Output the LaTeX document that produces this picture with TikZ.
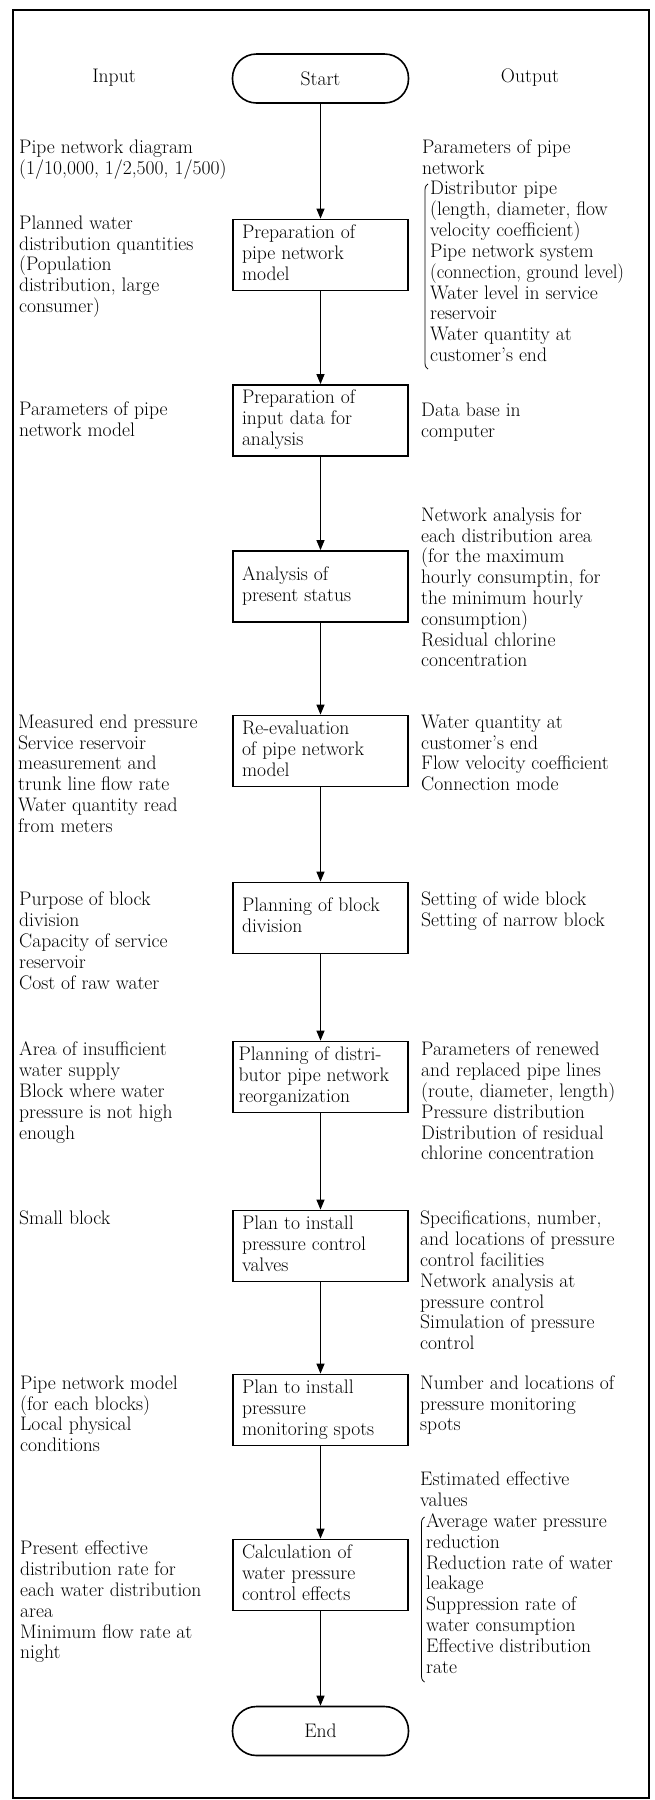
\documentclass[tikz,border=0pt]{standalone}
\usepackage{graphicx}
\usetikzlibrary{arrows.meta}
\newcommand\tlines[1]{\vtop{\offinterlineskip\halign{\vrule height 14.6pt depth 6.2pt width 0pt##\hfil\cr#1\crcr}}}
\newcommand\boxtext[2][157pt]{\hbox to #1{\tlines{#2}\hfil}}
\begin{document}
\begin{tikzpicture}[x=1pt,y=-1pt,
  font=\fontsize{19.6}{20.8}\selectfont,
  every node/.style={inner sep=0pt},
  proc/.style={draw, line width=1.8pt, minimum width=175pt, minimum height=71pt, inner xsep=9pt, inner ysep=0pt},
  term/.style={draw, line width=1.6pt, rounded corners=24pt, minimum width=176pt, minimum height=49pt},
  txt/.style={anchor=base west, inner sep=0pt},
  flow/.style={line width=1.2pt, -{Triangle[length=10pt,width=8pt]}},
  brk/.style={line width=0.8pt}]
\useasboundingbox (0,0) rectangle (654,1800);
\draw[line width=1.5pt] (13,10) rectangle (649,1798);

% headers
\node (inp) at (114,78) {Input};
\node (outp) at (530,78) {Output};

% flow column
\node[term] (start) at (320.5,78.5) {Start};
\node[proc] (b1) at (320.5,255) {\boxtext{Preparation of\cr pipe network\cr model}};
\node[proc] (b2) at (320.5,420.5) {\boxtext{Preparation of\cr input data for\cr analysis}};
\node[proc] (b3) at (320.5,586.5) {\boxtext{Analysis of\cr present status}};
\node[proc] (b4) at (320.5,751) {\boxtext{Re-evaluation\cr of pipe network\cr model}};
\node[proc] (b5) at (320.5,918) {\boxtext{Planning of block\cr division}};
\node[proc, inner xsep=5.5pt] (b6) at (320.5,1077) {\boxtext[164pt]{Planning of distri-\cr butor pipe network\cr reorganization}};
\node[proc] (b7) at (320.5,1246) {\boxtext{Plan to install\cr pressure control\cr valves}};
\node[proc] (b8) at (320.5,1410) {\boxtext{Plan to install\cr pressure\cr monitoring spots}};
\node[proc] (b9) at (320.5,1575) {\boxtext{Calculation of\cr water pressure\cr control effects}};
\node[term] (end) at (320.5,1731) {End};

\draw[flow] (start) -- (b1);
\draw[flow] (b1) -- (b2);
\draw[flow] (b2) -- (b3);
\draw[flow] (b3) -- (b4);
\draw[flow] (b4) -- (b5);
\draw[flow] (b5) -- (b6);
\draw[flow] (b6) -- (b7);
\draw[flow] (b7) -- (b8);
\draw[flow] (b8) -- (b9);
\draw[flow] (b9) -- (end);

% input column
\node[txt] (l1) at (19,153.2) {\tlines{Pipe network diagram\cr (1/10,000, 1/2,500, 1/500)}};
\node[txt] (l2) at (19,229.2) {\tlines{Planned water\cr distribution quantities\cr (Population\cr distribution, large\cr consumer)}};
\node[txt] (l3) at (19,415.9) {\tlines{Parameters of pipe\cr network model}};
\node[txt] (l4) at (18,728.2) {\tlines{Measured end pressure\cr Service reservoir\cr measurement and\cr trunk line flow rate\cr Water quantity read\cr from meters}};
\node[txt] (l5) at (19,905.9) {\tlines{Purpose of block\cr division\cr Capacity of service\cr reservoir\cr Cost of raw water}};
\node[txt] (l6) at (19,1055.9) {\tlines{Area of insufficient\cr water supply\cr Block where water\cr pressure is not high\cr enough}};
\node[txt] (l7) at (19,1224.9) {\tlines{Small block}};
\node[txt] (l8) at (20,1389.2) {\tlines{Pipe network model\cr (for each blocks)\cr Local physical\cr conditions}};
\node[txt] (l9) at (20,1554.9) {\tlines{Present effective\cr distribution rate for\cr each water distribution\cr area\cr Minimum flow rate at\cr night}};

% output column
\node[txt] (r1) at (422,153.2) {\tlines{Parameters of pipe\cr network}};
\node[txt] (r1b) at (430,194.8) {\tlines{Distributor pipe\cr (length, diameter, flow\cr velocity coefficient)\cr Pipe network system\cr \scalebox{0.95}[1]{(connection, ground level)}\cr Water level in service\cr reservoir\cr Water quantity at\cr customer's end}};
\draw[brk] (428,184) .. controls (425,186) and (425,188) .. (425,192) -- (425,361) .. controls (425,365) and (425,367) .. (428,369);
\node[txt] (r2) at (421,416.9) {\tlines{Data base in\cr computer}};
\node[txt] (r3) at (421,521.2) {\tlines{Network analysis for\cr each distribution area\cr (for the maximum\cr hourly consumptin, for\cr the minimum hourly\cr consumption)\cr Residual chlorine\cr concentration}};
\node[txt] (r4) at (421,728.2) {\tlines{Water quantity at\cr customer's end\cr Flow velocity coefficient\cr Connection mode}};
\node[txt] (r5) at (421,905.9) {\tlines{Setting of wide block\cr Setting of narrow block}};
\node[txt] (r6) at (421,1055.9) {\tlines{Parameters of renewed\cr and replaced pipe lines\cr (route, diameter, length)\cr Pressure distribution\cr Distribution of residual\cr chlorine concentration}};
\node[txt] (r7) at (420,1224.9) {\tlines{Specifications, number,\cr and locations of pressure\cr control facilities\cr Network analysis at\cr pressure control\cr Simulation of pressure\cr control}};
\node[txt] (r8) at (420,1389.2) {\tlines{Number and locations of\cr pressure monitoring\cr spots}};
\node[txt] (r9) at (420,1485.9) {\tlines{Estimated effective\cr values}};
\node[txt] (r9b) at (426,1527.5) {\tlines{Average water pressure\cr reduction\cr Reduction rate of water\cr leakage\cr Suppression rate of\cr water consumption\cr Effective distribution\cr rate}};
\draw[brk] (424.5,1517) .. controls (421.5,1519) and (421.5,1521) .. (421.5,1525) -- (421.5,1674) .. controls (421.5,1678) and (421.5,1680) .. (424.5,1682);
\end{tikzpicture}
\end{document}
